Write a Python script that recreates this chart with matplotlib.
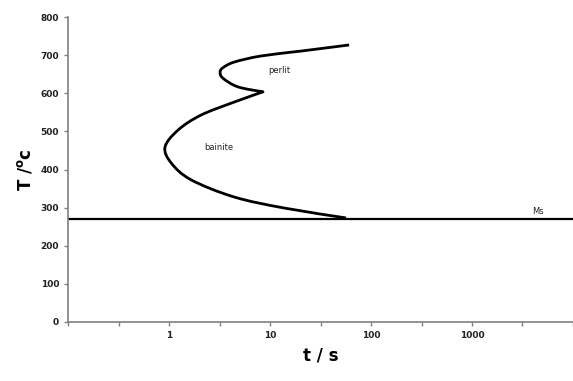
import numpy as np
import matplotlib.pyplot as plt
from matplotlib.path import Path
from matplotlib.patches import PathPatch
from matplotlib.ticker import FixedLocator, NullLocator

# -----------------------------
# DATOS
# -----------------------------
t_curva = [60.6, 20.3, 8.1, 4.4, 3.4, 3.2, 3.4, 4.8, 8.5,
           4.4, 2.07, 1.23, 0.91, 1.05, 1.65, 4.4, 13.8, 56.5]
T_curva = [727, 711, 698, 682, 667, 656, 640, 617, 604,
           577, 543, 504, 459, 417, 373, 328, 299, 273]

Ms = 270
t_lim = [0.1, 10000]

x_ticks = [0.1, 0.316, 1, 3.16, 10, 31.6, 100, 316, 1000, 3160, 10000]
x_labels = ["", "", "1", "", "10", "", "100", "", "1000", "", ""]
y_ticks = [0, 100, 200, 300, 400, 500, 600, 700, 800]

etiquetas = ["perlit", "bainite", "Ms"]
etiq_t = [12.3, 3.1, 4500]
etiq_T = [661, 457, 291]


# -----------------------------
# CURVA SUAVE (Catmull-Rom en espacio log)
# -----------------------------
def curva_suave(t, T):
    # nodo 8 (la esquina de 600 C) se deja en punta
    p = np.column_stack([np.log10(t), np.array(T) / 100.0])
    verts = [p[0]]
    codes = [Path.MOVETO]
    n = len(p)
    for i in range(n - 1):
        p0 = p[i - 1] if i > 0 else p[i]
        p1 = p[i]
        p2 = p[i + 1]
        p3 = p[i + 2] if i + 2 < n else p[i + 1]
        if i == 8:
            p0 = p1
        if i + 1 == 8:
            p3 = p2
        c1 = p1 + (p2 - p0) / 6.0
        c2 = p2 - (p3 - p1) / 6.0
        verts += [c1, c2, p2]
        codes += [Path.CURVE4] * 3
    v = np.array(verts)
    v = np.column_stack([10 ** v[:, 0], v[:, 1] * 100.0])
    return Path(v, codes)


# -----------------------------
# GRAFICA
# -----------------------------
fig = plt.figure(figsize=(5.73, 3.81), dpi=100)
ax = fig.add_axes([0.119, 0.155, 0.881, 0.80])

ax.set_xscale("log")
ax.set_xlim(t_lim)
ax.set_ylim(0, 800)

ax.add_patch(PathPatch(curva_suave(t_curva, T_curva), facecolor="none",
                       edgecolor="black", linewidth=2.0, joinstyle="round"))
ax.plot(t_lim, [Ms, Ms], color="black", linewidth=1.6)

for txt, tx, ty in zip(etiquetas, etiq_t, etiq_T):
    ax.text(tx, ty, txt, fontsize=6, ha="center", va="center", color="#222222")

ax.xaxis.set_major_locator(FixedLocator(x_ticks))
ax.xaxis.set_minor_locator(NullLocator())
ax.set_xticklabels(x_labels)
ax.set_yticks(y_ticks)

for s in ["top", "right"]:
    ax.spines[s].set_visible(False)
for s in ["left", "bottom"]:
    ax.spines[s].set_color("#808080")
    ax.spines[s].set_linewidth(1.2)

ax.tick_params(axis="both", colors="#808080", length=3, width=1,
               labelsize=6.5, labelcolor="#222222")
for lbl in ax.get_xticklabels() + ax.get_yticklabels():
    lbl.set_fontweight("bold")

ax.set_xlabel("t / s", fontsize=12, fontweight="bold", labelpad=5)
ax.set_ylabel("T /$^\\mathregular{o}$c", fontsize=12, fontweight="bold", labelpad=4)

fig.savefig("out.png", dpi=100)
